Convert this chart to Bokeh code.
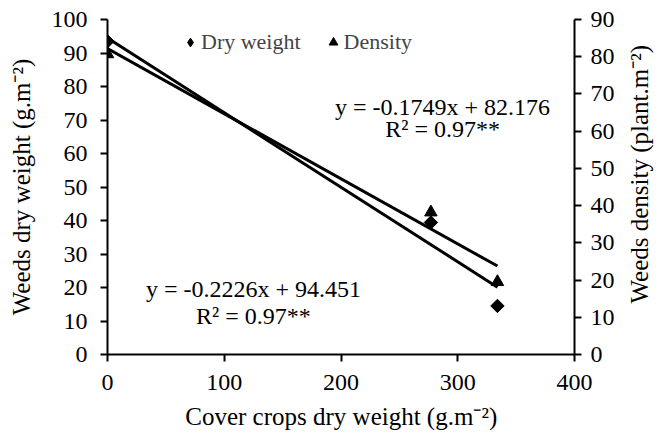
import numpy as np
from bokeh.plotting import figure
from bokeh.layouts import row, column
from bokeh.models import Range1d, LinearAxis, FixedTicker, Label, Legend, LegendItem
from bokeh.embed import file_html
from bokeh.resources import INLINE

# ---- data ----
cover_dw = [0, 277, 334]
weed_dw = [93.5, 39.4, 14.5]
weed_density = [80.7, 38.2, 19.5]
dw_slope, dw_intercept = -0.2226, 94.451
den_slope, den_intercept = -0.1749, 82.176
dw_eq = ["y = -0.2226x + 94.451", "R² = 0.97**"]
den_eq = ["y = -0.1749x + 82.176", "R² = 0.97**"]
x_ticks = [0, 100, 200, 300, 400]
left_ticks = list(range(0, 101, 10))
right_ticks = list(range(0, 91, 10))
x_title = "Cover crops dry weight (g.m⁻²)"
left_title = "Weeds dry weight (g.m⁻²)"
right_title = "Weeds density (plant.m⁻²)"

FONT = "Liberation Serif"

p = figure(width=626, height=404, output_backend="svg", toolbar_location=None,
           x_range=Range1d(0, 400), y_range=Range1d(0, 100),
           min_border_left=107, min_border_right=52, min_border_top=19, min_border_bottom=50)
p.extra_y_ranges = {"dens": Range1d(0, 90)}
p.outline_line_color = None
p.xgrid.visible = False
p.ygrid.visible = False
p.background_fill_color = "white"

# trend lines (from the fitted equations shown on the chart)
x_line = [0, max(cover_dw)]
dw_line = [dw_intercept + dw_slope * xv for xv in x_line]
den_line = [den_intercept + den_slope * xv for xv in x_line]
p.line(x_line, dw_line, line_color="black", line_width=3)
p.line(x_line, den_line, line_color="black", line_width=3, y_range_name="dens")

p.scatter(cover_dw, weed_dw, marker="square", angle=np.pi / 4, size=9.5,
          fill_color="black", line_color="black")
p.scatter(cover_dw, weed_density, marker="triangle", size=12.5,
          fill_color="black", line_color="black", y_range_name="dens")

# hidden renderers used only for the legend symbols
leg_dw = p.scatter(cover_dw, weed_dw, marker="diamond", fill_color="black",
                   line_color="black", visible=False)
leg_den = p.scatter(cover_dw, weed_density, marker="triangle", fill_color="black",
                    line_color="black", y_range_name="dens", visible=False)

def style_axis(ax, ticks):
    ax.ticker = FixedTicker(ticks=ticks)
    ax.minor_tick_line_color = None
    ax.axis_line_width = 2
    ax.axis_line_color = "black"
    ax.major_tick_line_width = 2
    ax.major_tick_line_color = "black"
    ax.major_tick_out = 7
    ax.major_tick_in = 0
    ax.major_label_text_font = FONT
    ax.major_label_text_font_size = "24px"
    ax.major_label_text_color = "black"
    ax.axis_label_text_font = FONT
    ax.axis_label_text_font_size = "25px"
    ax.axis_label_text_font_style = "normal"
    ax.axis_label_text_color = "black"

xa = p.xaxis[0]
style_axis(xa, x_ticks)
xa.major_label_standoff = 13

ya = p.yaxis[0]
style_axis(ya, left_ticks)
ya.axis_label = left_title
ya.major_label_standoff = 13
ya.axis_label_standoff = 14

ra = LinearAxis(y_range_name="dens")
style_axis(ra, right_ticks)
ra.major_label_standoff = 9
p.add_layout(ra, "right")

# trendline equations
for txt, yv in zip(den_eq, [74.0, 67.2]):
    p.add_layout(Label(x=287, y=yv, text=txt, text_align="center", text_baseline="middle",
                       text_font=FONT, text_font_size="24px", text_color="black"))
for txt, yv in zip(dw_eq, [19.6, 11.4]):
    p.add_layout(Label(x=125, y=yv, text=txt, text_align="center", text_baseline="middle",
                       text_font=FONT, text_font_size="24px", text_color="black"))

legend = Legend(items=[LegendItem(label="Dry weight", renderers=[leg_dw]),
                       LegendItem(label="Density", renderers=[leg_den])],
                orientation="horizontal", location=(72, 299),
                padding=0, margin=0, spacing=21, label_standoff=0,
                glyph_width=22, glyph_height=24,
                label_text_font=FONT, label_text_font_size="22px",
                inactive_fill_alpha=0,
                border_line_color=None, background_fill_alpha=0)
p.add_layout(legend)

def strip(w, h):
    f = figure(width=w, height=h, output_backend="svg", toolbar_location=None,
               x_range=Range1d(0, 1), y_range=Range1d(0, 1),
               min_border=0, min_border_left=0, min_border_right=0,
               min_border_top=0, min_border_bottom=0)
    f.axis.visible = False
    f.xgrid.visible = False
    f.ygrid.visible = False
    f.outline_line_color = None
    return f

# right strip: right-axis title (reads bottom-to-top)
p2 = strip(28, 404)
p2.add_layout(Label(x=0.47, y=0.538, text=right_title, angle=np.pi / 2,
                    text_align="center", text_baseline="middle",
                    text_font=FONT, text_font_size="25px", text_color="black"))

# bottom strip: x-axis title
p3 = strip(654, 26)
p3.add_layout(Label(x=0.521, y=0.54, text=x_title,
                    text_align="center", text_baseline="middle",
                    text_font=FONT, text_font_size="25px", text_color="black"))

layout = column(row(p, p2, spacing=0), p3, spacing=0)
open("out.html", "w").write(file_html(layout, INLINE))
